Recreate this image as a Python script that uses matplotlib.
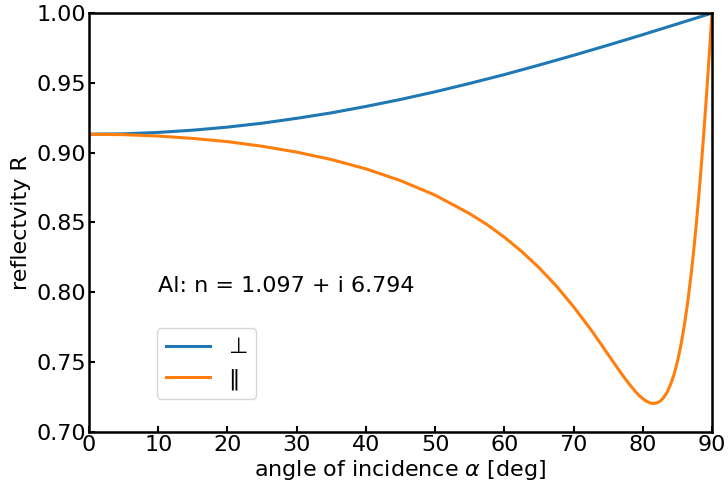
import matplotlib
matplotlib.use("Agg")
import matplotlib.pyplot as plt

# reflectivity of aluminium vs. angle of incidence
angle_s = [0, 5, 10, 15, 20, 25, 30, 35, 40, 45, 50, 55, 60, 65, 70, 75,
           80, 85, 89, 90]
R_s = [0.9132, 0.9135, 0.9145, 0.9161, 0.9183, 0.9211, 0.9246, 0.9285,
       0.9331, 0.9381, 0.9436, 0.9496, 0.9559, 0.9627, 0.9697, 0.9770,
       0.9845, 0.9922, 0.9984, 1.0]

angle_p = [0, 5, 10, 15, 20, 25, 30, 35, 40, 45,
           50, 55, 57.5, 60, 62.5, 65, 67.5, 70, 72.5, 74,
           75, 76, 77, 78, 79, 79.5, 80, 80.5, 81, 81.5,
           82, 82.5, 83, 83.5, 84, 84.5, 85, 85.5, 86, 86.5,
           87, 87.25, 87.5, 87.75, 88, 88.25, 88.5, 88.75, 89, 89.25,
           89.5, 89.75, 89.9, 90]
R_p = [0.9132, 0.9129, 0.9119, 0.9102, 0.9079, 0.9046, 0.9004, 0.8951, 0.8884, 0.8800,
       0.8696, 0.8563, 0.8485, 0.8395, 0.8293, 0.8177, 0.8046, 0.7897, 0.7733, 0.7627,
       0.7554, 0.7483, 0.7412, 0.7346, 0.7286, 0.7260, 0.7239, 0.7221, 0.7209, 0.7204,
       0.7208, 0.7220, 0.7245, 0.7283, 0.7338, 0.7409, 0.7503, 0.7619, 0.7761, 0.7932,
       0.8135, 0.8248, 0.8369, 0.8499, 0.8636, 0.8782, 0.8936, 0.9097, 0.9266, 0.9441,
       0.9622, 0.9809, 0.9923, 1.0]

labels = ['⊥', '‖']
material = 'Al: n = 1.097 + i 6.794'

plt.rcParams['font.size'] = 16

fig = plt.figure(figsize=(7.28, 4.91), dpi=100)
ax = fig.add_axes([0.1223, 0.1202, 0.8557, 0.8533])

ax.plot(angle_s, R_s, color='tab:blue', lw=2.2, label=labels[0])
ax.plot(angle_p, R_p, color='tab:orange', lw=2.2, label=labels[1])

ax.set_xlim(0, 90)
ax.set_ylim(0.70, 1.00)
ax.set_xticks(range(0, 91, 10))
ax.set_yticks([0.70, 0.75, 0.80, 0.85, 0.90, 0.95, 1.00])
ax.set_xlabel(r'angle of incidence $\alpha$ [deg]', labelpad=2)
ax.set_ylabel('reflectvity R', labelpad=4)

for s in ax.spines.values():
    s.set_linewidth(1.8)
ax.tick_params(direction='in', length=4.5, width=1.5, pad=2)

ax.text(10, 0.80, material)
ax.legend(loc='lower left', bbox_to_anchor=(0.109, 0.079), borderaxespad=0)

fig.savefig('out.png', dpi=100)
